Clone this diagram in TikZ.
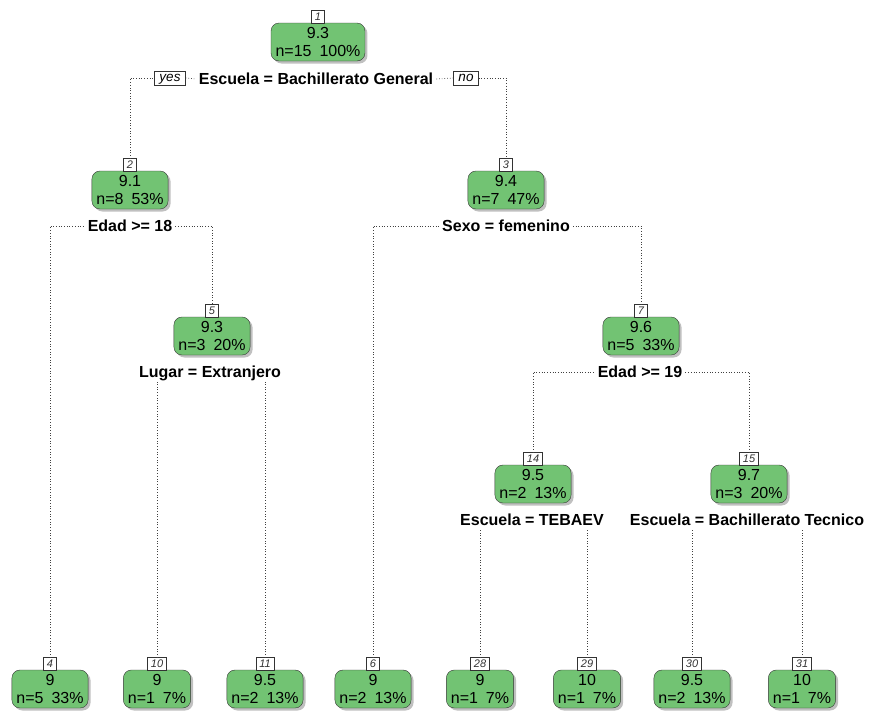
\documentclass[tikz,border=0pt]{standalone}
\usepackage{fontspec}
\setmainfont{Liberation Sans}
\usepackage{tikz}
\usetikzlibrary{positioning,shadows}
\definecolor{leafgreen}{HTML}{72C373}
\definecolor{edgegray}{HTML}{333333}

\begin{document}
\begin{tikzpicture}[
  x=1pt, y=-1pt,
  every node/.style={font=\fontsize{16}{18.5}\selectfont},
  treenode/.style={draw=edgegray, fill=leafgreen, rounded corners=8pt,
                   align=center, minimum height=38pt, inner xsep=4.5pt, inner ysep=1pt,
                   drop shadow={shadow xshift=2.5pt, shadow yshift=-2.5pt,
                                fill=black!45, opacity=.55}},
  idbox/.style={draw=edgegray, fill=white, anchor=south, text=black!80,
                font=\fontsize{11}{11}\selectfont\itshape,
                inner xsep=3.5pt, inner ysep=0pt, minimum height=12.5pt},
  splitlabel/.style={font=\fontsize{16}{16}\selectfont\bfseries, inner xsep=3pt,
                     text height=11.5pt, text depth=1pt},
  dirbox/.style={draw=edgegray, fill=white, font=\fontsize{13.5}{14}\selectfont\itshape,
                 inner xsep=5pt, inner ysep=1pt, text height=9.5pt, text depth=2.5pt},
  branch/.style={dotted, line width=0.7pt, draw=black!75}
]
\useasboundingbox (0,0) rectangle (870,716);

% inner nodes
\node[treenode] (n1) at (318,42) {9.3\\n=15\hspace{.5em}100\%};
\node[treenode] (n2) at (130,190) {9.1\\n=8\hspace{.5em}53\%};
\node[treenode] (n3) at (506,190) {9.4\\n=7\hspace{.5em}47\%};
\node[treenode] (n5) at (212,336) {9.3\\n=3\hspace{.5em}20\%};
\node[treenode] (n7) at (641,336) {9.6\\n=5\hspace{.5em}33\%};
\node[treenode] (n14) at (533,484) {9.5\\n=2\hspace{.5em}13\%};
\node[treenode] (n15) at (749,484) {9.7\\n=3\hspace{.5em}20\%};

% leaves
\node[treenode] (n4) at (50,689) {9\\n=5\hspace{.5em}33\%};
\node[treenode] (n10) at (157,689) {9\\n=1\hspace{.5em}7\%};
\node[treenode] (n11) at (265,689) {9.5\\n=2\hspace{.5em}13\%};
\node[treenode] (n6) at (373,689) {9\\n=2\hspace{.5em}13\%};
\node[treenode] (n28) at (480,689) {9\\n=1\hspace{.5em}7\%};
\node[treenode] (n29) at (587,689) {10\\n=1\hspace{.5em}7\%};
\node[treenode] (n30) at (692,689) {9.5\\n=2\hspace{.5em}13\%};
\node[treenode] (n31) at (802,689) {10\\n=1\hspace{.5em}7\%};

% node numbers
\foreach \k in {1,2,3,4,5,6,7,10,11,14,15,28,29,30,31}
  \node[idbox] (id\k) at ([yshift=-0.5pt]n\k.north) {\k};

% split labels
\node[splitlabel] (s1) at (316,79) {Escuela = Bachillerato General};
\node[dirbox] (yes) at (170,78) {yes};
\node[dirbox] (no) at (466,78) {no};
\node[splitlabel] (s2) at (130,226) {Edad >= 18};
\node[splitlabel] (s3) at (506,226) {Sexo = femenino};
\node[splitlabel] (s5) at (210,372) {Lugar = Extranjero};
\node[splitlabel] (s7) at (640,372) {Edad >= 19};
\node[splitlabel] (s14) at (532,520) {Escuela = TEBAEV};
\node[splitlabel] (s15) at (747,520) {Escuela = Bachillerato Tecnico};

% branches
\draw[branch] (id2.north) |- (yes.west);
\draw[branch] (yes.east) -- (s1.west);
\draw[branch] (s1.east) -- (no.west);
\draw[branch] (no.east) -| (id3.north);
\draw[branch] (id4.north) |- (s2.west);
\draw[branch] (s2.east) -| (id5.north);
\draw[branch] (id6.north) |- (s3.west);
\draw[branch] (s3.east) -| (id7.north);
\draw[branch] (id10.north) -- (id10.north |- s5.south);
\draw[branch] (id11.north) -- (id11.north |- s5.south);
\draw[branch] (id14.north) |- (s7.west);
\draw[branch] (s7.east) -| (id15.north);
\draw[branch] (id28.north) -- (id28.north |- s14.south);
\draw[branch] (id29.north) -- (id29.north |- s14.south);
\draw[branch] (id30.north) -- (id30.north |- s15.south);
\draw[branch] (id31.north) -- (id31.north |- s15.south);
\end{tikzpicture}
\end{document}
